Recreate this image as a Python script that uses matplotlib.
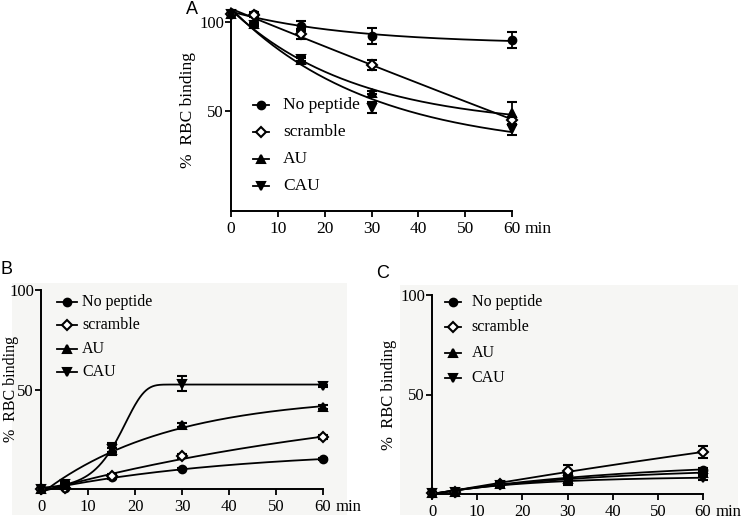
import numpy as np
import matplotlib
matplotlib.use("Agg")
import matplotlib.pyplot as plt
from matplotlib.patches import Rectangle

plt.rcParams['font.family'] = ['Liberation Serif', 'DejaVu Serif']

# ---------------- data ----------------
time = [0, 5, 15, 30, 60]
series_names = ["No peptide", "scramble", "AU", "CAU"]

# Panel A
A_no_peptide = [105, 104.5, 98, 92.5, 90]
A_scramble = [105, 104, 93.5, 76, 45]
A_AU = [105, 99, 79, 60.5, 49]
A_CAU = [105, 98.5, 79.5, 52, 40]
A_err_no_peptide = [0, 1.5, 3, 4.5, 4.5]
A_err_scramble = [0, 1, 3, 3, 2]
A_err_AU = [0, 0.5, 1, 1, 6.5]
A_err_CAU = [0, 0.5, 1, 3, 3]

# Panel B
B_no_peptide = [0, 0.3, 6, 10, 15]
B_scramble = [0, 0.5, 6.5, 16.5, 26]
B_AU = [0, 2, 19.5, 32, 41]
B_CAU = [0, 2.3, 20, 53, 52]
B_err_no_peptide = [0, 0.5, 1, 0.5, 0.5]
B_err_scramble = [0, 0.5, 1, 1, 1]
B_err_AU = [0, 0.5, 1, 1, 1]
B_err_CAU = [0, 1, 3, 4, 0.5]

# Panel C
C_no_peptide = [0.5, 1, 5, 8.3, 12.3]
C_scramble = [0.5, 1, 5.2, 11.7, 21]
C_AU = [0.5, 1, 4.8, 7.5, 10.7]
C_CAU = [0.5, 1, 4.5, 6.8, 8]
C_err_no_peptide = [0, 0.5, 1, 1, 1]
C_err_scramble = [0, 0.5, 1, 3, 3]
C_err_AU = [0, 0.5, 1, 3, 1]
C_err_CAU = [0, 0.5, 1, 1, 1]

markers = ['o', 'D', '^', 'v']
marker_sizes = [5.5, 5.5, 5.5, 5.5]


# ---------------- simple fits ----------------
def fit_exp(x, y):
    """y = a + b*exp(-k x); grid search on k, linear least squares on a, b"""
    x = np.asarray(x, float); y = np.asarray(y, float)
    best = None
    for k in np.linspace(0.001, 0.3, 600):
        M = np.column_stack([np.ones_like(x), np.exp(-k * x)])
        coef, *_ = np.linalg.lstsq(M, y, rcond=None)
        r = np.sum((M @ coef - y) ** 2)
        if best is None or r < best[0]:
            best = (r, k, coef)
    _, k, (a, b) = best
    return lambda t: a + b * np.exp(-k * t)


def fit_cloglog(x, y):
    """y = top * (1 - exp(-exp((x - x0)/s)))  (asymmetric sigmoid)"""
    x = np.asarray(x, float); y = np.asarray(y, float)
    best = None
    for x0 in np.linspace(8, 30, 111):
        for s in np.linspace(1, 10, 91):
            f = 1 - np.exp(-np.exp((x - x0) / s))
            top = np.sum(f * y) / np.sum(f * f)
            r = np.sum((top * f - y) ** 2)
            if best is None or r < best[0]:
                best = (r, x0, s, top)
    _, x0, s, top = best
    return lambda t: top * (1 - np.exp(-np.exp((t - x0) / s)))


W, H = 742, 519
fig = plt.figure(figsize=(W / 100, H / 100), dpi=100)

# light grey backgrounds of panels B and C (drawn behind everything)
bg = fig.add_axes([0, 0, 1, 1], zorder=-10)
bg.set_xlim(0, W); bg.set_ylim(H, 0); bg.axis('off')
bg.add_patch(Rectangle((12, 283), 335, 232, color='#f6f6f4', lw=0))
bg.add_patch(Rectangle((400, 285), 338, 230, color='#f6f6f4', lw=0))


def ax_px(l, r, t, b):
    return fig.add_axes([l / W, 1 - b / H, (r - l) / W, (b - t) / H])


def style_axes(ax, ylim, ytick_size, xtick_size):
    ax.set_xlim(0, 60)
    ax.set_ylim(*ylim)
    ax.patch.set_alpha(0)
    for s in ['top', 'right']:
        ax.spines[s].set_visible(False)
    for s in ['left', 'bottom']:
        ax.spines[s].set_linewidth(1.4)
    ax.set_xticks([0, 10, 20, 30, 40, 50, 60])
    ax.set_yticks([50, 100])
    ax.tick_params(axis='both', direction='out', length=4, width=1.3)
    ax.tick_params(axis='y', labelsize=ytick_size, pad=1)
    ax.tick_params(axis='x', labelsize=xtick_size, pad=3)


def draw_series(ax, ys, errs, model_kinds):
    tt = np.linspace(0, 60, 400)
    for y, e, m, ms, kind in zip(ys, errs, markers, marker_sizes, model_kinds):
        f = fit_cloglog(time, y) if kind == 'sigmoid' else fit_exp(time, y)
        ax.plot(tt, f(tt), color='black', lw=1.3, clip_on=False, zorder=3)
        face = 'white' if m == 'D' else 'black'
        ax.errorbar(time, y, yerr=e, fmt=m, ms=ms, mfc=face, mec='black', mew=1.5,
                    ecolor='black', elinewidth=1.3, capsize=3.5, capthick=1.3,
                    clip_on=False, zorder=4)


def draw_legend(ax, x0, y0, dy, fs, half=0.025, tx=0.07):
    for i, (name, m, ms) in enumerate(zip(series_names, markers, marker_sizes)):
        y = y0 - i * dy
        ax.plot([x0 - half, x0 + half], [y, y], color='black', lw=1.3,
                transform=ax.transAxes, clip_on=False)
        face = 'white' if m == 'D' else 'black'
        ax.plot([x0], [y], marker=m, ms=ms, mfc=face, mec='black', mew=1.5,
                transform=ax.transAxes, clip_on=False)
        ax.text(x0 + tx, y, name, transform=ax.transAxes, fontsize=fs,
                va='center', ha='left')


def add_min(ax, fs, dy):
    ax.annotate('min', xy=(60, 0), xycoords=('data', 'axes fraction'),
                xytext=(9, dy), textcoords='offset points',
                fontsize=fs, ha='left', va='top')


# ---------------- Panel A ----------------
axA = ax_px(231, 512, 10, 211)
style_axes(axA, (-6, 107), 12, 12.5)
draw_series(axA, [A_no_peptide, A_scramble, A_AU, A_CAU],
            [A_err_no_peptide, A_err_scramble, A_err_AU, A_err_CAU],
            ['exp', 'exp', 'exp', 'exp'])
draw_legend(axA, 0.107, 0.527, 0.135, 12.5, half=0.03, tx=0.078)
axA.set_ylabel('%  RBC binding', fontsize=12.5, labelpad=2)
add_min(axA, 12.5, -7)
fig.text(192 / W, 1 - 9 / H, 'A', fontsize=13, family='Liberation Sans',
         ha='center', va='center')

# ---------------- Panel B ----------------
axB = ax_px(41, 323, 290, 489)
style_axes(axB, (0, 100), 12, 12)
draw_series(axB, [B_no_peptide, B_scramble, B_AU, B_CAU],
            [B_err_no_peptide, B_err_scramble, B_err_AU, B_err_CAU],
            ['exp', 'exp', 'exp', 'sigmoid'])
draw_legend(axB, 0.092, 0.94, 0.118, 11.5, half=0.035, tx=0.054)
axB.set_ylabel('%  RBC binding', fontsize=11.5, labelpad=0)
axB.yaxis.set_label_coords(-0.078, 0.5)
add_min(axB, 12, -7)
fig.text(6 / W, 1 - 270 / H, 'B', fontsize=13, family='Liberation Sans',
         ha='center', va='center')

# ---------------- Panel C ----------------
axC = ax_px(432, 703, 295, 494)
style_axes(axC, (0, 100), 12, 12)
draw_series(axC, [C_no_peptide, C_scramble, C_AU, C_CAU],
            [C_err_no_peptide, C_err_scramble, C_err_AU, C_err_CAU],
            ['exp', 'exp', 'exp', 'exp'])
draw_legend(axC, 0.077, 0.965, 0.127, 11.5, half=0.03, tx=0.07)
axC.set_ylabel('%  RBC binding', fontsize=12, labelpad=2)
add_min(axC, 12, -7)
fig.text(383 / W, 1 - 273 / H, 'C', fontsize=13, family='Liberation Sans',
         ha='center', va='center')

fig.savefig('out.png', dpi=100, facecolor='white')
